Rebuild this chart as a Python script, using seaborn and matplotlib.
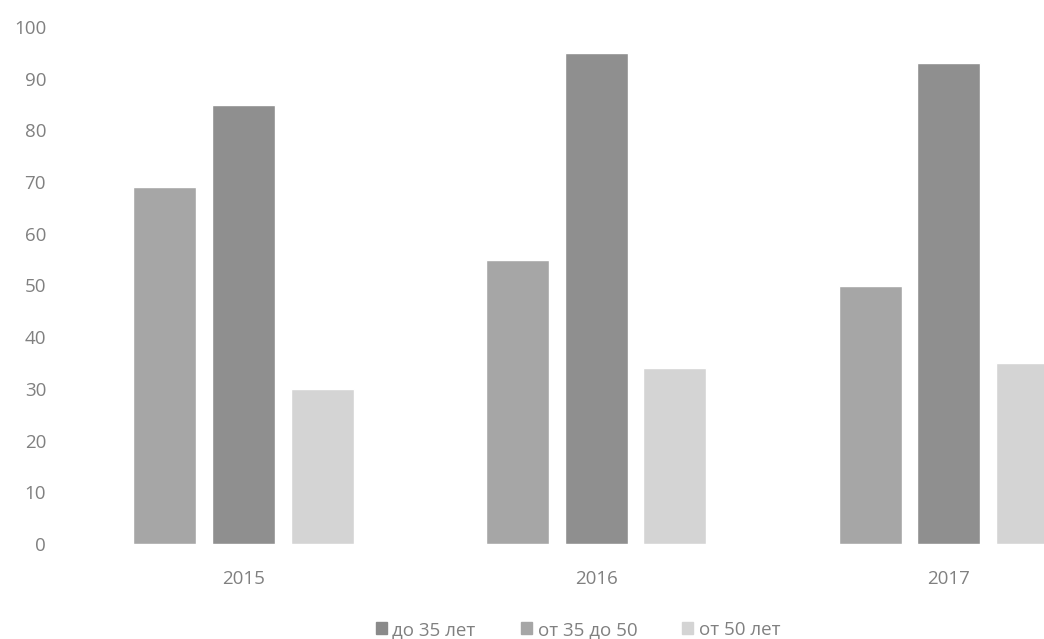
import matplotlib
matplotlib.use("Agg")
import matplotlib.pyplot as plt
import matplotlib.patches as mpatches
import seaborn as sns
import pandas as pd

years = ["2015", "2016", "2017"]
series = ["до 35 лет", "от 35 до 50", "от 50 лет"]
s_under35 = [69, 55, 50]
s_35to50 = [85, 95, 93]
s_over50 = [30, 34, 35]
colors = ["#a6a6a6", "#8f8f8f", "#d4d4d4"]

rows = []
for vals, name in zip([s_under35, s_35to50, s_over50], series):
    for y, v in zip(years, vals):
        rows.append({"year": y, "group": name, "value": v})
df = pd.DataFrame(rows)

sns.set_theme(style="white")
plt.rcParams["font.family"] = ["Open Sans", "DejaVu Sans"]

fig = plt.figure(figsize=(10.44, 6.39), dpi=100)
ax = fig.add_axes([60 / 1044, 1 - 544 / 639, 984 / 1044, (544 - 27) / 639])

sns.barplot(data=df, x="year", y="value", hue="group", order=years,
            hue_order=series, palette=colors, width=0.67, gap=0.2,
            saturation=1, ax=ax, legend=False)

ax.set_ylim(0, 100)
ax.set_xlim(-0.52, 2.27)
ax.set_yticks(range(0, 101, 10))
ax.set_xlabel("")
ax.set_ylabel("")
for s in ax.spines.values():
    s.set_visible(False)
ax.tick_params(axis="y", length=0, pad=10, labelsize=13.5, labelcolor="#808080")
ax.tick_params(axis="x", length=0, pad=19, labelsize=13.5, labelcolor="#808080")

handles = [mpatches.Patch(color=c, label=n) for c, n in zip(["#8a8a8a", "#a6a6a6", "#d4d4d4"], series)]
fig.legend(handles=handles, loc="center", bbox_to_anchor=(578 / 1044, 1 - 630 / 639),
           ncol=3, frameon=False, fontsize=13.5, labelcolor="#808080",
           handlelength=0.6, handleheight=0.6, handletextpad=0.3, columnspacing=2.4)

fig.savefig("out.png", dpi=100)
